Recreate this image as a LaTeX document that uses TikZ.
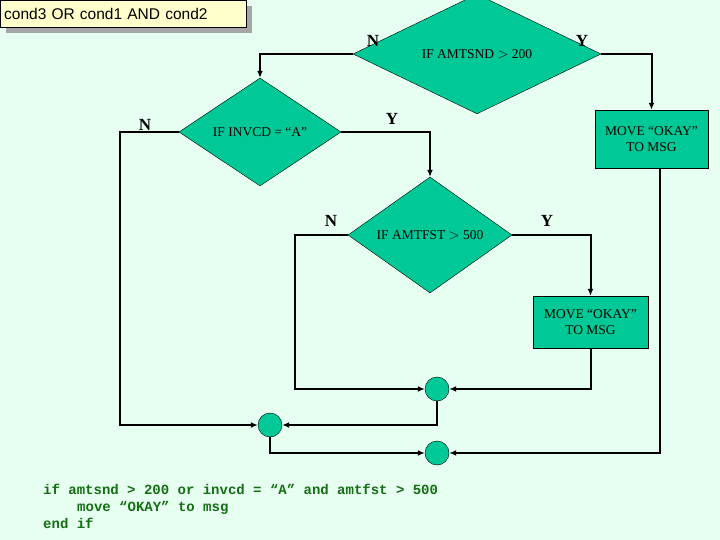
\documentclass[tikz,border=0pt]{standalone}
\usepackage{fontspec}
\setmainfont{Liberation Serif}
\newfontfamily\arialfont{Liberation Sans}
\newfontfamily\codefont{Liberation Mono}
\usetikzlibrary{arrows.meta,shapes.geometric,positioning}
\definecolor{bgmint}{RGB}{230,255,240}
\definecolor{teal}{RGB}{0,200,150}
\definecolor{codegreen}{RGB}{20,110,20}
\definecolor{titlebg}{RGB}{255,255,204}
\tikzset{
  dec/.style={diamond, draw, fill=teal, inner sep=0pt, font=\fontsize{13.5}{14}\selectfont},
  act/.style={rectangle, draw, fill=teal, align=center, font=\fontsize{13.5}{16}\selectfont},
  jn/.style={circle, draw, fill=teal, minimum size=24pt, inner sep=0pt},
  lbl/.style={font=\bfseries\fontsize{17}{17}\selectfont},
  flow/.style={line width=2pt, -{Latex[length=7pt,width=6pt]}},
}
\begin{document}
\begin{tikzpicture}[x=1pt,y=-1pt]
  \fill[bgmint] (0,0) rectangle (720,540);
  \useasboundingbox (0,0) rectangle (720,540);

  % --- title ---
  \fill[gray!70] (6,6) rectangle (252,33);
  \node[draw, fill=titlebg, anchor=north west, minimum width=246pt, minimum height=27pt,
    inner sep=0pt, text width=238pt, font=\arialfont\fontsize{15.5}{15.5}\selectfont] (title) at (0,0) {cond3 OR cond1 AND cond2};

  % --- decisions ---
  \node[dec, minimum width=248pt, minimum height=104pt] (amtsnd) at (477,54) {IF AMTSND $>$ 200};
  \node[dec, minimum width=162pt, minimum height=108pt] (invcd) at (260,132) {IF INVCD = “A”};
  \node[dec, minimum width=164pt, minimum height=110pt] (amtfst) at (430,235) {IF AMTFST $>$ 500};

  % --- actions ---
  \node[act, minimum width=113pt, minimum height=58pt] (move1) at (651.5,139) {MOVE “OKAY”\\TO MSG};
  \node[act, minimum width=115pt, minimum height=52pt] (move2) at (590.5,322) {MOVE “OKAY”\\TO MSG};
  \coordinate (m1out) at (660,168);

  % --- junctions ---
  \node[jn] (j1) at (437,389) {};
  \node[jn] (j2) at (270,425) {};
  \node[jn] (j3) at (437,453) {};

  % branch labels
  \node[lbl] (n1) at (373,41) {N};
  \node[lbl] (y1) at (582,41) {Y};
  \node[lbl] (n2) at (145,125) {N};
  \node[lbl] (y2) at (392,119) {Y};
  \node[lbl] (n3) at (331,221) {N};
  \node[lbl] (y3) at (547,221) {Y};

  % connectors
  \draw[flow] (amtsnd.west) -| (invcd.north);
  \draw[flow] (amtsnd.east) -| (move1.north);
  \draw[flow] (invcd.east) -| (amtfst.north);
  \draw[flow] (amtfst.east) -| (move2.north);
  \draw[flow] (invcd.west) -- (120,132) |- (j2.west);
  \draw[flow] (amtfst.west) -- (295,235) |- (j1.west);
  \draw[flow] (move2.south) |- (j1.east);
  \draw[flow] (j1.south) |- (j2.east);
  \draw[flow] (j2.south) |- (j3.west);
  \draw[flow] (m1out) |- (j3.east);

  % --- code ---
  \node[anchor=north west, align=left, text=codegreen, inner sep=0pt,
    font=\codefont\bfseries\fontsize{14}{17}\selectfont] (code) at (43,484)
    {if amtsnd > 200 or invcd = “A” and amtfst > 500\\
     \hspace*{34pt}move “OKAY” to msg\\
     end if};
\end{tikzpicture}
\end{document}
